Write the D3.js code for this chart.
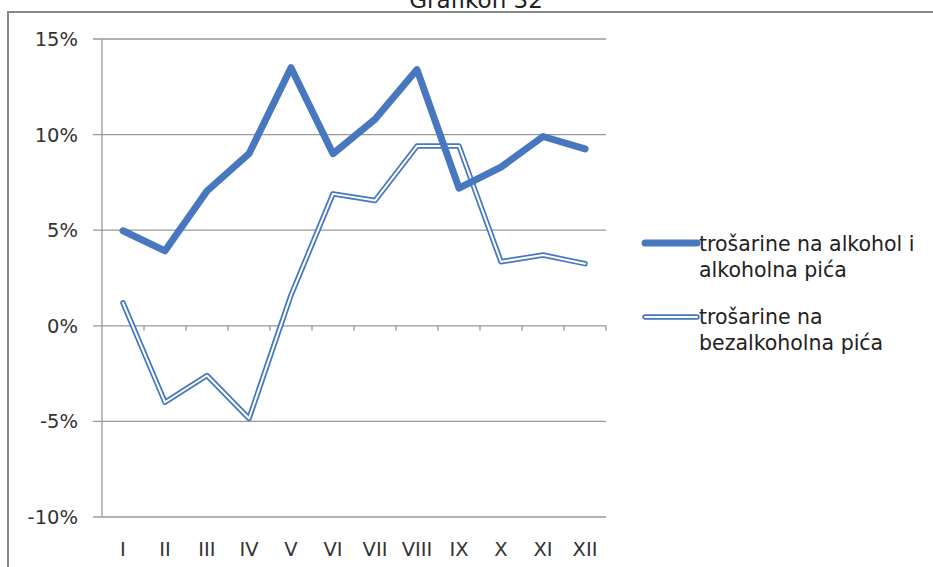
<!DOCTYPE html>
<html>
<head>
<meta charset="utf-8">
<script src="https://cdn.jsdelivr.net/npm/d3@7"></script>
<style>
  body { margin: 0; background: #fff; }
  svg { display: block; font-family: 'DejaVu Sans', Verdana, sans-serif; }
</style>
</head>
<body>
<script>
// data
const months = ['I', 'II', 'III', 'IV', 'V', 'VI', 'VII', 'VIII', 'IX', 'X', 'XI', 'XII'];
const alkohol = [4.97, 3.92, 7.05, 9.0, 13.5, 9.0, 10.8, 13.4, 7.2, 8.3, 9.9, 9.25];
const bezalkohol = [1.2, -4.0, -2.6, -4.85, 1.6, 6.9, 6.55, 9.4, 9.4, 3.35, 3.7, 3.25];
const yTicks = [-10, -5, 0, 5, 10, 15];
const seriesNames = [
  ['trošarine na alkohol i', 'alkoholna pića'],
  ['trošarine na', 'bezalkoholna pića']
];

const width = 933, height = 567;
const blue = '#4677bf';
const gridColor = '#999';

let svg = d3.select('body').append('svg').attr('width', width).attr('height', height);

// frame + title (cut off at the top like the scan)
svg.append('text')
  .attr('x', 476).attr('y', 8)
  .attr('text-anchor', 'middle')
  .style('font-size', '23px')
  .attr('fill', '#222')
  .text('Grafikon 32');
svg.append('path')
  .attr('d', 'M8,567V12H933')
  .attr('fill', 'none')
  .attr('stroke', '#888')
  .attr('stroke-width', 2);

let x = d3.scaleBand().domain(months).range([102, 606]);
let y = d3.scaleLinear().domain([-10, 15]).range([517, 39]);

// gridlines
svg.append('g').selectAll('line')
  .data(yTicks)
  .enter().append('line')
  .attr('x1', 93).attr('x2', 606)
  .attr('y1', d => y(d)).attr('y2', d => y(d))
  .attr('stroke', gridColor).attr('stroke-width', 1.3);

// y axis
svg.append('line')
  .attr('x1', 102).attr('x2', 102)
  .attr('y1', y(15)).attr('y2', y(-10))
  .attr('stroke', gridColor).attr('stroke-width', 1.3);

svg.append('g').selectAll('text')
  .data(yTicks)
  .enter().append('text')
  .attr('x', 78).attr('y', d => y(d) + 7)
  .attr('text-anchor', 'end')
  .style('font-size', '19.5px')
  .attr('fill', '#333')
  .text(d => d + '%');

// category ticks at 0 line
svg.append('g').selectAll('line')
  .data(months.slice(1))
  .enter().append('line')
  .attr('x1', d => x(d)).attr('x2', d => x(d))
  .attr('y1', y(0)).attr('y2', y(0) + 5)
  .attr('stroke', gridColor).attr('stroke-width', 1.3);
svg.append('line')
  .attr('x1', 606).attr('x2', 606)
  .attr('y1', y(0)).attr('y2', y(0) + 5)
  .attr('stroke', gridColor).attr('stroke-width', 1.3);

// category labels at bottom
svg.append('g').selectAll('text')
  .data(months)
  .enter().append('text')
  .attr('x', d => x(d) + x.bandwidth() / 2)
  .attr('y', 556)
  .attr('text-anchor', 'middle')
  .style('font-size', '19.5px')
  .attr('fill', '#333')
  .text(d => d);

let line = d3.line()
  .x((d, i) => x(months[i]) + x.bandwidth() / 2)
  .y(d => y(d));

// double line series
svg.append('path')
  .attr('d', line(bezalkohol))
  .attr('fill', 'none').attr('stroke', blue)
  .attr('stroke-width', 5.5).attr('stroke-linecap', 'round').attr('stroke-linejoin', 'round');
svg.append('path')
  .attr('d', line(bezalkohol))
  .attr('fill', 'none').attr('stroke', '#fff')
  .attr('stroke-width', 2).attr('stroke-linecap', 'round').attr('stroke-linejoin', 'round');

// thick series
svg.append('path')
  .attr('d', line(alkohol))
  .attr('fill', 'none').attr('stroke', blue)
  .attr('stroke-width', 7).attr('stroke-linecap', 'round').attr('stroke-linejoin', 'round');

// legend
let lg = svg.append('g');
lg.append('line')
  .attr('x1', 645).attr('x2', 697).attr('y1', 243).attr('y2', 243)
  .attr('stroke', blue).attr('stroke-width', 7).attr('stroke-linecap', 'round');
lg.append('line')
  .attr('x1', 645).attr('x2', 697).attr('y1', 317).attr('y2', 317)
  .attr('stroke', blue).attr('stroke-width', 5.5).attr('stroke-linecap', 'round');
lg.append('line')
  .attr('x1', 645).attr('x2', 697).attr('y1', 317).attr('y2', 317)
  .attr('stroke', '#fff').attr('stroke-width', 2).attr('stroke-linecap', 'round');

seriesNames.forEach(function(lines, k) {
  let t = lg.append('text')
    .attr('x', 699).attr('y', k === 0 ? 251 : 324)
    .style('font-size', '20.5px')
    .attr('fill', '#222');
  lines.forEach(function(s, j) {
    t.append('tspan')
      .attr('x', 699)
      .attr('dy', j === 0 ? 0 : 26)
      .text(s);
  });
});
</script>
</body>
</html>
